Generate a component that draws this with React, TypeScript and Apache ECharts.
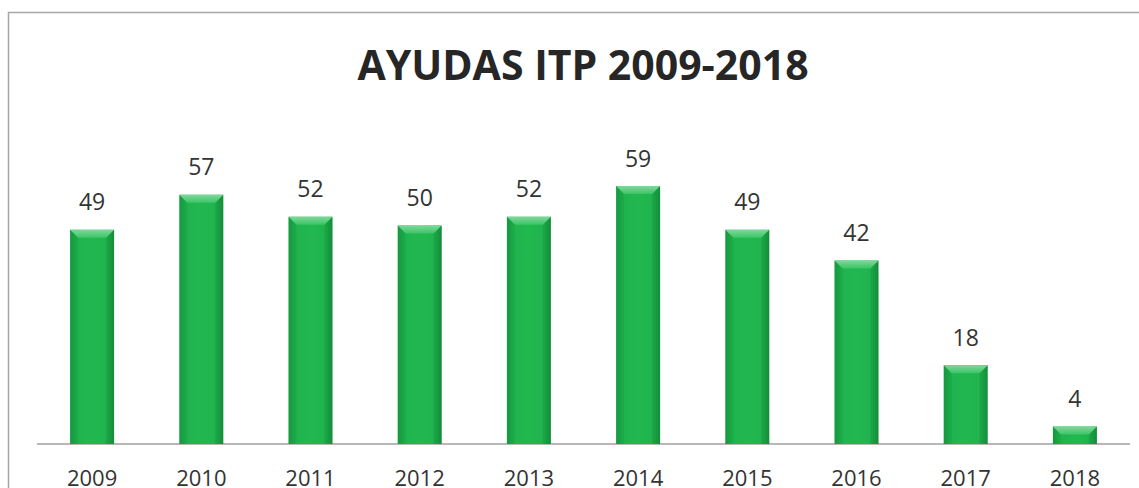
import React, { useEffect, useRef } from "react";
import * as echarts from "echarts";

const categories = ["2009", "2010", "2011", "2012", "2013", "2014", "2015", "2016", "2017", "2018"];
const values = [49, 57, 52, 50, 52, 59, 49, 42, 18, 4];
const titleText = "AYUDAS ITP 2009-2018";

export default function App() {
  const ref = useRef<HTMLDivElement>(null);
  useEffect(() => {
    const chart = echarts.init(ref.current!, null, { renderer: "svg" });
    const barW = 44;
    const bev = 8;
    chart.setOption({
      animation: false,
      backgroundColor: "#ffffff",
      title: {
        text: titleText,
        left: 578,
        textAlign: "center",
        top: 35,
        textStyle: { fontFamily: "Open Sans", fontWeight: "bold", fontSize: 41, lineHeight: 48, color: "#262626" },
      },
      graphic: [
        {
          type: "rect",
          shape: { x: 8.5, y: 12.5, width: 1200, height: 600 },
          style: { fill: "none", stroke: "#a6a6a6", lineWidth: 1.5 },
          silent: true,
        },
      ],
      grid: { left: 37.5, right: 9.5, top: 181.7, height: 262.8, containLabel: false },
      xAxis: {
        type: "category",
        data: categories,
        axisLine: { lineStyle: { color: "#a0a0a0", width: 1.5 } },
        axisTick: { show: false },
        axisLabel: { fontFamily: "Open Sans", fontSize: 22, color: "#333333", margin: 22 },
      },
      yAxis: { type: "value", min: 0, max: 60, show: false, splitLine: { show: false } },
      series: [
        {
          type: "custom",
          data: values.map((v, i) => [i, v]),
          z: 2,
          renderItem: (params: any, api: any) => {
            const top = api.coord([api.value(0), api.value(1)]);
            const base = api.coord([api.value(0), 0]);
            const x0 = top[0] - barW / 2;
            const x1 = top[0] + barW / 2;
            const y0 = top[1];
            const y1 = base[1];
            const b = Math.min(bev, (y1 - y0) / 2);
            return {
              type: "group",
              children: [
                {
                  type: "rect",
                  shape: { x: x0, y: y0, width: barW, height: y1 - y0 },
                  style: {
                    fill: new echarts.graphic.LinearGradient(0, 0, 1, 0, [
                      { offset: 0, color: "#17a043" },
                      { offset: 0.15, color: "#1fb34d" },
                      { offset: 0.5, color: "#22b850" },
                      { offset: 0.85, color: "#1fb34d" },
                      { offset: 1, color: "#159a3f" },
                    ]),
                  },
                },
                {
                  type: "polygon",
                  shape: { points: [[x0, y0], [x1, y0], [x1 - b, y0 + b], [x0 + b, y0 + b]] },
                  style: {
                    fill: new echarts.graphic.LinearGradient(0, 0, 0, 1, [
                      { offset: 0, color: "#7ed89a" },
                      { offset: 1, color: "#3cc466" },
                    ]),
                  },
                },
                {
                  type: "polygon",
                  shape: { points: [[x0, y0], [x0 + b, y0 + b], [x0 + b, y1], [x0, y1]] },
                  style: { fill: "rgba(0,60,20,0.08)" },
                },
                {
                  type: "polygon",
                  shape: { points: [[x1, y0], [x1 - b, y0 + b], [x1 - b, y1], [x1, y1]] },
                  style: { fill: "rgba(0,60,20,0.12)" },
                },
              ],
            };
          },
        },
        {
          type: "bar",
          data: values,
          barWidth: barW,
          z: 3,
          itemStyle: { color: "rgba(0,0,0,0)" },
          label: {
            show: true,
            position: "top",
            distance: 17,
            fontFamily: "Open Sans",
            fontSize: 23,
            color: "#333333",
          },
        },
      ],
    });
    return () => chart.dispose();
  }, []);
  return <div ref={ref} style={{ position: "fixed", left: 0, top: 0, width: 1139, height: 488 }} />;
}
